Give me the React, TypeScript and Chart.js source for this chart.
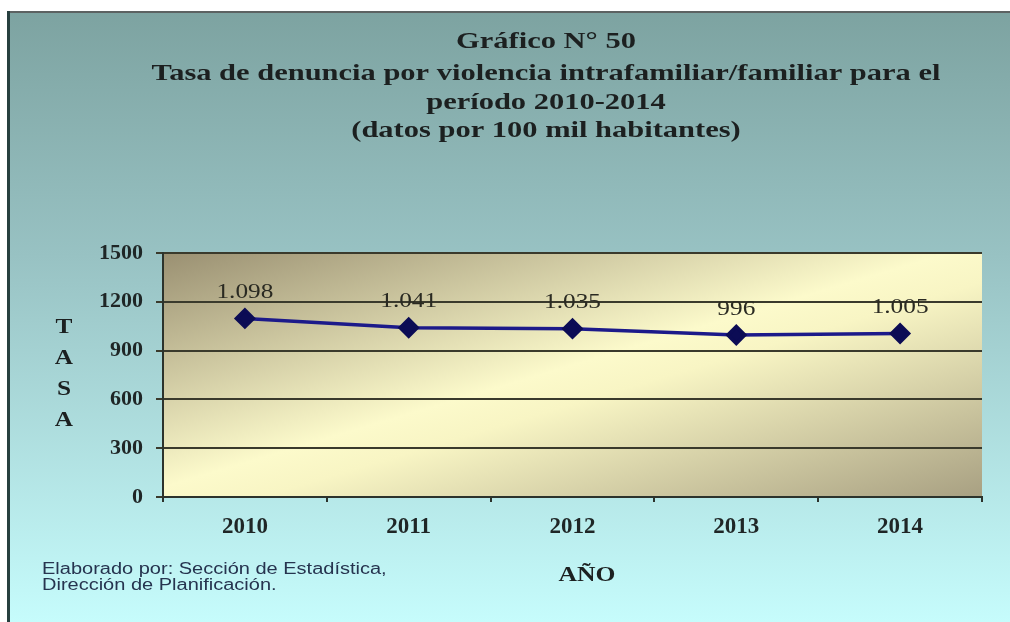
import React, { useEffect, useRef } from "react";
import { Chart, registerables } from "chart.js";
Chart.register(...registerables);

const years = ["2010", "2011", "2012", "2013", "2014"];
const tasa = [1098, 1041, 1035, 996, 1005];
const yMin = 0;
const yMax = 1500;
const yStep = 300;
const titleLines = [
  "Gráfico N° 50",
  "Tasa de denuncia por violencia intrafamiliar/familiar para el",
  "período 2010-2014",
  "(datos por 100 mil habitantes)",
];
const yTitleLetters = ["T", "A", "S", "A"];
const xTitle = "AÑO";
const footerLines = ["Elaborado por: Sección de Estadística,", "Dirección de Planificación."];

const SERIF = "'Liberation Serif', 'Times New Roman', serif";
const SANS = "'Liberation Sans', Arial, sans-serif";

const fmt = (n: number) => String(n).replace(/\B(?=(\d{3})+(?!\d))/g, ".");

function txt(ctx: CanvasRenderingContext2D, s: string, x: number, y: number, font: string, color: string, align: CanvasTextAlign, sx = 1) {
  ctx.save();
  ctx.font = font;
  ctx.fillStyle = color;
  ctx.textAlign = align;
  ctx.textBaseline = "middle";
  ctx.translate(x, y);
  ctx.scale(sx, 1);
  ctx.fillText(s, 0, 0);
  ctx.restore();
}

const decorPlugin = {
  id: "decor",
  beforeDraw(chart: any) {
    const ctx = chart.ctx as CanvasRenderingContext2D;
    const W = chart.width, H = chart.height;
    ctx.save();
    ctx.fillStyle = "#ffffff";
    ctx.fillRect(0, 0, W, H);
    const g = ctx.createLinearGradient(0, 12, 0, H);
    g.addColorStop(0, "#7da3a1");
    g.addColorStop(0.4, "#98c2c3");
    g.addColorStop(1, "#c6fcfc");
    ctx.fillStyle = g;
    ctx.fillRect(7, 11, W - 7, H - 11);
    ctx.fillStyle = "#5c6262";
    ctx.fillRect(7, 11, W - 7, 2);
    ctx.fillStyle = "#27403f";
    ctx.fillRect(7, 11, 3, H - 11);
    // plot area gradient
    const a = chart.chartArea;
    const cx = (a.left + a.right) / 2, cy = (a.top + a.bottom) / 2;
    const w = a.right - a.left, h = a.bottom - a.top;
    const len = Math.hypot(h, w);
    const ux = h / len, uy = w / len;
    const proj = (w / 2) * ux + (h / 2) * uy;
    const pg = ctx.createLinearGradient(cx - proj * ux, cy - proj * uy, cx + proj * ux, cy + proj * uy);
    pg.addColorStop(0, "#9a9072");
    pg.addColorStop(0.48, "#fcfacb");
    pg.addColorStop(0.56, "#f8f5c4");
    pg.addColorStop(1, "#a8a082");
    ctx.fillStyle = pg;
    ctx.fillRect(a.left, a.top, w, h);
    ctx.restore();
  },
  afterDatasetsDraw(chart: any) {
    const ctx = chart.ctx as CanvasRenderingContext2D;
    const meta = chart.getDatasetMeta(0);
    const data = chart.data.datasets[0].data as number[];
    meta.data.forEach((pt: any, i: number) => {
      txt(ctx, fmt(data[i]), pt.x, pt.y - 26, `22px ${SERIF}`, "#2a2a22", "center", 1.15);
    });
  },
  afterDraw(chart: any) {
    const ctx = chart.ctx as CanvasRenderingContext2D;
    const tys = [42, 74, 103, 131];
    titleLines.forEach((l, i) => txt(ctx, l, 546, tys[i], `bold 24px ${SERIF}`, "#1c2020", "center", 1.27));
    yTitleLetters.forEach((l, i) => txt(ctx, l, 64, 327 + i * 31, `bold 22px ${SERIF}`, "#1c2020", "center", 1.15));
    txt(ctx, xTitle, 587, 576, `bold 21px ${SERIF}`, "#1c2020", "center", 1.22);
    footerLines.forEach((l, i) => txt(ctx, l, 42, 570 + i * 16, `16px ${SANS}`, "#26344f", "left", 1.25));
  },
};

export default function App() {
  const ref = useRef<HTMLCanvasElement>(null);
  useEffect(() => {
    const canvas = ref.current!;
    const chart = new Chart(canvas, {
      type: "line",
      data: {
        labels: years,
        datasets: [
          {
            data: tasa,
            borderColor: "#1c1a8a",
            borderWidth: 3.5,
            pointStyle: "rectRot",
            pointRadius: 8.5,
            pointBackgroundColor: "#0c0c55",
            pointBorderColor: "#0c0c55",
            tension: 0,
            fill: false,
          },
        ],
      },
      options: {
        responsive: false,
        animation: false,
        devicePixelRatio: 1,
        layout: { padding: { top: 253, left: 83, right: 28, bottom: 85 } },
        plugins: { legend: { display: false }, title: { display: false }, tooltip: { enabled: false } },
        scales: {
          x: {
            type: "category",
            offset: true,
            afterFit: (s: any) => { s.height = 40; },
            grid: { offset: true, drawOnChartArea: false, drawTicks: true, tickLength: 5, color: "#2c332c", lineWidth: 2 },
            border: { display: true, color: "#2c332c", width: 2 },
            ticks: { font: { family: SERIF, size: 23, weight: "bold" }, color: "#1f2626", padding: 11 },
          },
          y: {
            min: yMin,
            max: yMax,
            afterFit: (s: any) => { s.width = 80; },
            ticks: {
              stepSize: yStep,
              font: { family: SERIF, size: 22, weight: "bold" },
              color: "#1f2626",
              padding: 13,
              callback: (v: any) => String(v),
            },
            grid: { color: "#3a3a2c", lineWidth: 2, tickLength: 7, drawTicks: true },
            border: { display: true, color: "#2c332c", width: 2 },
          },
        },
      },
      plugins: [decorPlugin],
    } as any);
    return () => chart.destroy();
  }, []);
  return (
    <div style={{ position: "fixed", left: 0, top: 0, width: 1010, height: 622, background: "#fff" }}>
      <canvas ref={ref} width={1010} height={622} style={{ display: "block" }} />
    </div>
  );
}
